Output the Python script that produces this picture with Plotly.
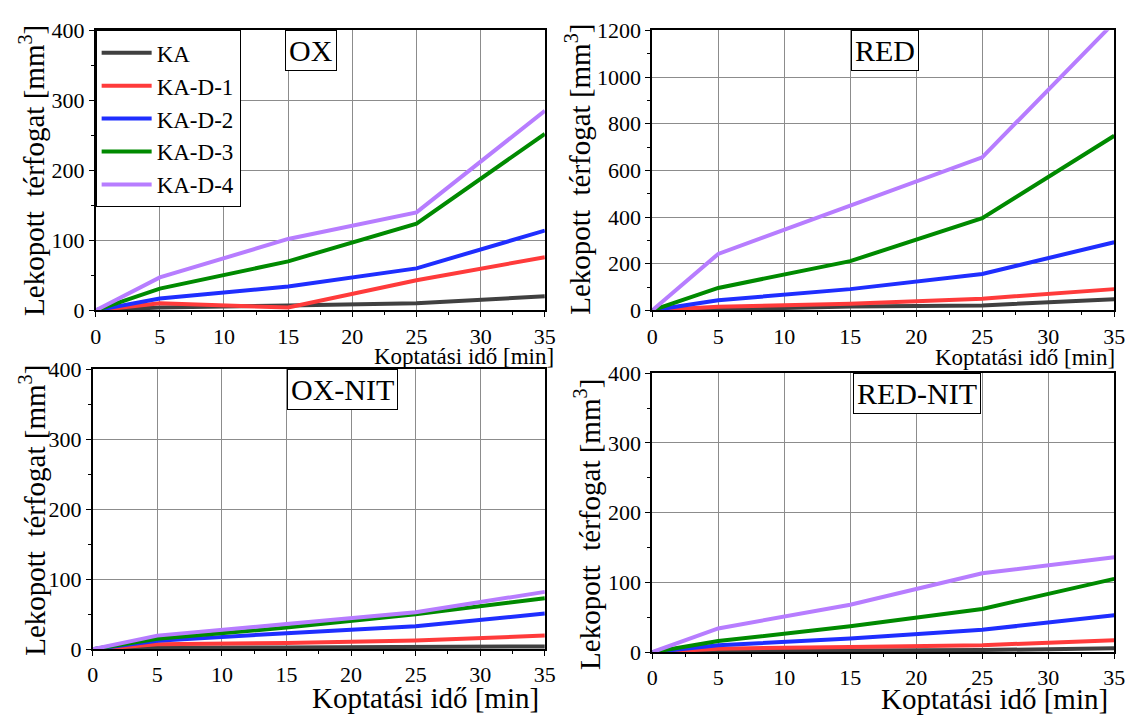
import plotly.graph_objects as go

# ---- data ----
time_min = [0, 5, 15, 25, 35]
series_names = ["KA", "KA-D-1", "KA-D-2", "KA-D-3", "KA-D-4"]
series_colors = ["#404040", "#ff3b3b", "#1f2eff", "#008a00", "#b77dff"]

ox_ka = [0, 4, 7, 10, 20]
ox_d1 = [0, 10, 4, 43, 76]
ox_d2 = [0, 17, 34, 60, 114]
ox_d3 = [0, 31, 70, 124, 252]
ox_d4 = [0, 47, 102, 140, 285]

red_ka = [0, 4, 17, 21, 48]
red_d1 = [0, 15, 28, 50, 91]
red_d2 = [0, 43, 91, 156, 292]
red_d3 = [0, 96, 211, 395, 748]
red_d4 = [0, 242, 449, 656, 1234]

oxnit_ka = [0, 2, 2.5, 3, 4]
oxnit_d1 = [0, 7, 9, 12.5, 19.5]
oxnit_d2 = [0, 12, 23, 33, 51]
oxnit_d3 = [0, 15, 31, 50, 73]
oxnit_d4 = [0, 19.5, 36, 53, 82]

rednit_ka = [0, 1.5, 2.5, 3, 5.5]
rednit_d1 = [0, 5, 7.5, 10, 17]
rednit_d2 = [0, 10, 19.5, 32, 53]
rednit_d3 = [0, 16, 37, 62, 105]
rednit_d4 = [0, 34, 68, 113, 136]

panel_titles = ["OX", "RED", "OX-NIT", "RED-NIT"]
panel_data = [
    [ox_ka, ox_d1, ox_d2, ox_d3, ox_d4],
    [red_ka, red_d1, red_d2, red_d3, red_d4],
    [oxnit_ka, oxnit_d1, oxnit_d2, oxnit_d3, oxnit_d4],
    [rednit_ka, rednit_d1, rednit_d2, rednit_d3, rednit_d4],
]
y_ranges = [[0, 400], [0, 1200], [0, 400], [0, 400]]
y_dticks = [100, 200, 100, 100]
x_ticks = [0, 5, 10, 15, 20, 25, 30, 35]

y_title = "Lekopott  térfogat [mm<sup>3</sup>]"
x_title = "Koptatási idő [min]"

FONT = "Liberation Serif"
W, H = 1140, 726

# panel plot-area pixel boxes (left, right, top, bottom)
boxes = [(91, 547, 19, 309), (656, 1125, 19, 309), (88, 547, 370, 660), (656, 1125, 374, 663)]

fig = go.Figure()
layout = {}
for i, (l, r, t, b) in enumerate(boxes):
    xa = "xaxis" if i == 0 else f"xaxis{i+1}"
    ya = "yaxis" if i == 0 else f"yaxis{i+1}"
    xref = "x" if i == 0 else f"x{i+1}"
    yref = "y" if i == 0 else f"y{i+1}"
    for name, color, vals in zip(series_names, series_colors, panel_data[i]):
        fig.add_trace(go.Scatter(
            x=time_min, y=vals, mode="lines", name=name,
            line=dict(color=color, width=4), showlegend=(i == 0),
            xaxis=xref, yaxis=yref))
    layout[xa] = dict(domain=[l / W, r / W], range=[0, 35], tickvals=x_ticks, anchor=yref,
                      minor=dict(ticks="outside", ticklen=3, tickcolor="black", dtick=2.5, showgrid=False))
    layout[ya] = dict(domain=[1 - b / H, 1 - t / H], range=y_ranges[i], dtick=y_dticks[i], anchor=xref,
                      minor=dict(ticks="outside", ticklen=3, tickcolor="black", dtick=y_dticks[i] / 2, showgrid=False))

fig.update_layout(**layout)
axis_style = dict(showline=True, linecolor="black", linewidth=1.5, mirror=True,
                  showgrid=True, gridcolor="#8c8c8c", gridwidth=1.3, zeroline=False,
                  ticks="outside", ticklen=5, tickcolor="black", tickwidth=1.2,
                  tickfont=dict(family=FONT, size=22, color="black"))
fig.update_xaxes(**axis_style)
fig.update_yaxes(**axis_style)

ann = []
# panel title boxes: centre x, top y (px) – top aligned with the plot frame
title_pos = [(310, 19), (892, 19), (342, 370), (925, 374)]
for txt, (cx, ty) in zip(panel_titles, title_pos):
    ann.append(dict(text=txt, x=cx / W, y=1 - ty / H, xref="paper", yref="paper",
                    showarrow=False, xanchor="center", yanchor="top",
                    font=dict(family=FONT, size=30, color="black"),
                    bordercolor="black", borderwidth=1, borderpad=3, bgcolor="white"))
ytitle_pos = [(27, 164), (581, 163), (27, 516), (590, 531)]
for cx, cy in ytitle_pos:
    ann.append(dict(text=y_title, x=cx / W, y=1 - cy / H, xref="paper", yref="paper",
                    showarrow=False, xanchor="center", yanchor="middle", textangle=-90,
                    font=dict(family=FONT, size=29, color="black")))
xtitle_pos = [(558, 357, 23), (1128, 358, 23), (543, 710, 29), (1121, 712, 29)]
for rx, cy, fs in xtitle_pos:
    ann.append(dict(text=x_title, x=rx / W, y=1 - cy / H, xref="paper", yref="paper",
                    showarrow=False, xanchor="right", yanchor="middle",
                    font=dict(family=FONT, size=fs, color="black")))

fig.update_layout(
    width=W, height=H,
    margin=dict(l=0, r=0, t=0, b=0),
    paper_bgcolor="white", plot_bgcolor="white",
    annotations=ann,
    legend=dict(x=91 / W, y=1 - 19 / H, xanchor="left", yanchor="top",
                bgcolor="white", bordercolor="black", borderwidth=1,
                font=dict(family=FONT, size=23, color="black"),
                tracegroupgap=0, itemwidth=50),
    font=dict(family=FONT, color="black"),
)

post = ("document.documentElement.style.margin='0';document.body.style.margin='0';"
        "document.body.style.overflow='hidden';")
fig.write_html("out.html", config={"displayModeBar": False}, post_script=post)
